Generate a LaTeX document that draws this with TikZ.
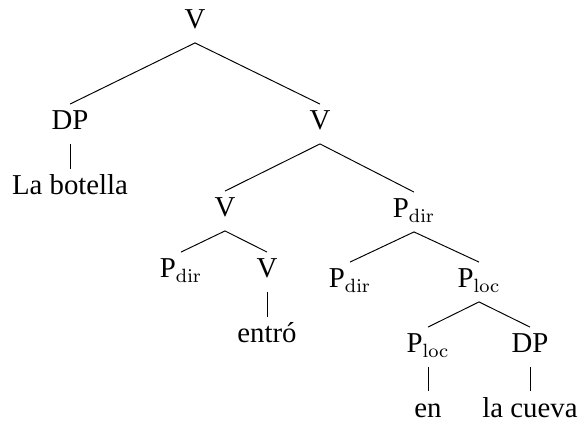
\documentclass[tikz,border=0pt]{standalone}
\usepackage[no-math]{fontspec}
\setmainfont{Liberation Serif}

\begin{document}
\begin{tikzpicture}[x=0.41667pt, y=-0.41667pt, thin,
  cat/.style={anchor=base, inner sep=0pt, text height=10.6pt, text depth=5.6pt,
    font=\fontsize{12}{14}\selectfont}]

\useasboundingbox (0,0) rectangle (579,421);

% 第一层
\node[cat] (v0) at (195, 29) {V};

% 第二层
\node[cat] (dp1) at (70, 130) {DP};
\node[cat] (v1)  at (320, 130) {V};
\node[cat] (botella) at (70, 195) {La botella};

% 第三层
\node[cat] (v2)  at (225, 217) {V};
\node[cat] (pd1) at (414, 218) {P$_{\mathrm{dir}}$};

% V 的子树
\node[cat] (pd2)   at (181, 278) {P$_{\mathrm{dir}}$};
\node[cat] (v3)    at (267, 278) {V};
\node[cat] (entro) at (267, 343) {entró};

% P_dir 的子树
\node[cat] (pd3) at (350, 288) {P$_{\mathrm{dir}}$};
\node[cat] (pl1) at (479, 288) {P$_{\mathrm{loc}}$};

% P_loc 的子树
\node[cat] (pl2)   at (428, 353) {P$_{\mathrm{loc}}$};
\node[cat] (dp2)   at (530, 353) {DP};
\node[cat] (en)    at (428, 417) {en};
\node[cat] (cueva) at (530, 417) {la cueva};

% 树枝
\draw (v0.south) -- (dp1.north);
\draw (v0.south) -- (v1.north);
\draw (dp1.south) -- (botella.north);

\draw (v1.south) -- (v2.north);
\draw (v1.south) -- (pd1.north);

\draw (v2.south) -- (pd2.north);
\draw (v2.south) -- (v3.north);
\draw (v3.south) -- (entro.north);

\draw (pd1.south) -- (pd3.north);
\draw (pd1.south) -- (pl1.north);

\draw (pl1.south) -- (pl2.north);
\draw (pl1.south) -- (dp2.north);
\draw (pl2.south) -- (en.north);
\draw (dp2.south) -- (cueva.north);

\end{tikzpicture}
\end{document}
